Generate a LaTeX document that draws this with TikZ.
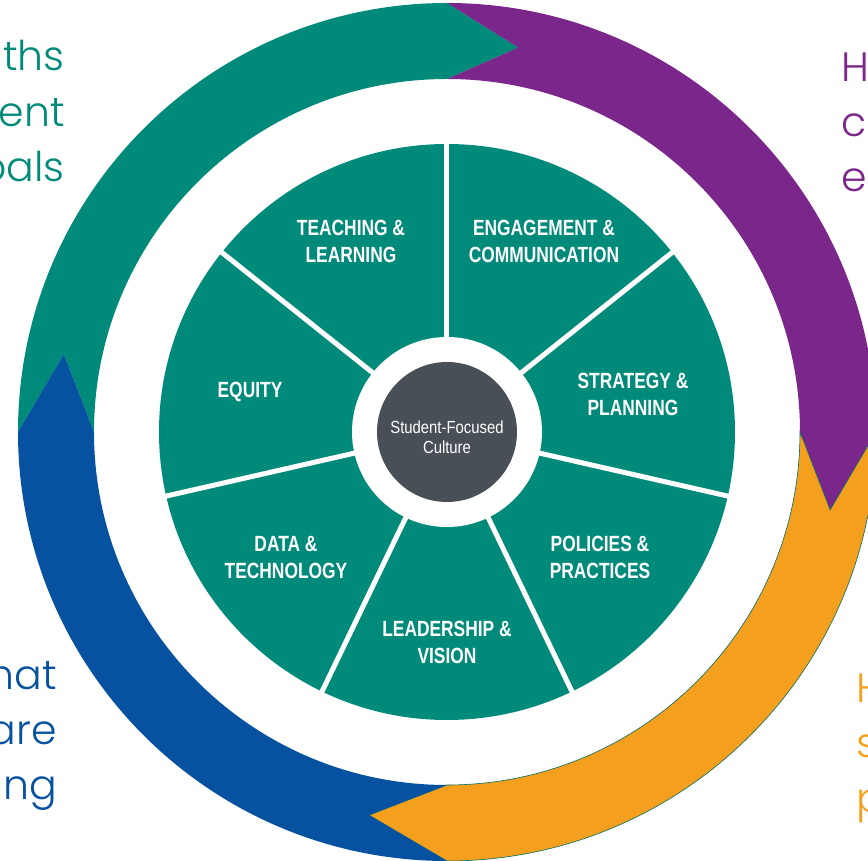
\documentclass[tikz,border=0pt]{standalone}
\usepackage{fontspec}
\newfontfamily\labelfont[FakeStretch=0.79]{Liberation Sans}
\newfontfamily\corefont[FakeStretch=0.85]{Liberation Sans}
\newfontfamily\sidefont{Poppins Light}
\definecolor{tealc}{RGB}{0,138,122}
\definecolor{purplec}{RGB}{123,38,138}
\definecolor{orangec}{RGB}{244,160,30}
\definecolor{bluec}{RGB}{6,82,160}
\definecolor{grayc}{RGB}{72,79,87}
\begin{document}
\begin{tikzpicture}[x=1pt,y=1pt,
  sector/.style={text=white,align=center,inner sep=0pt,font=\labelfont\bfseries\fontsize{22}{27}\selectfont},
  sidetext/.style={inner sep=0pt,font=\sidefont\fontsize{41}{41}\selectfont},
  spoke/.style={white,line width=5pt}]
\useasboundingbox (-447,-429) rectangle (421,432);
\def\Ro{429pt}\def\Ri{353pt}\def\Rm{391pt}
% outer chevron ring
\fill[tealc] (180:\Ro) arc[start angle=180,end angle=90,radius=\Ro] -- (79.5:\Rm) -- (90:\Ri)
  arc[start angle=90,end angle=180,radius=\Ri] -- (168.5:\Rm) -- cycle;
\fill[purplec] (90:\Ro) arc[start angle=90,end angle=0,radius=\Ro] -- (-11.5:\Rm) -- (0:\Ri)
  arc[start angle=0,end angle=90,radius=\Ri] -- (79.5:\Rm) -- cycle;
\filldraw[fill=orangec,draw=tealc!80!black,line width=0.6pt] (0:\Ro) arc[start angle=0,end angle=-90,radius=\Ro] -- (-101.5:\Rm) -- (-90:\Ri)
  arc[start angle=-90,end angle=0,radius=\Ri] -- (-11.5:\Rm) -- cycle;
\fill[bluec] (270:\Ro) arc[start angle=270,end angle=180,radius=\Ro] -- (168.5:\Rm) -- (180:\Ri)
  arc[start angle=180,end angle=270,radius=\Ri] -- (258.5:\Rm) -- cycle;
% inner disc
\fill[tealc] (0,0) circle[radius=288pt];
\foreach \a in {90,38.571,-12.857,-64.286,-115.714,-167.143,141.429}
  \draw[spoke] (\a:90pt) -- (\a:292pt);
\fill[white] (0,0) circle[radius=95pt];
\node[circle,fill=grayc,minimum size=140pt,inner sep=0pt] (core) at (0,0) {};
\node[text=white,align=center,inner sep=0pt,font=\corefont\fontsize{17.5}{20.5}\selectfont] (corelabel) at (0,-5) {Student-Focused\\Culture};
% sector labels
\node[sector] (teach) at (-96,191) {TEACHING \&\\LEARNING};
\node[sector] (engage) at (97,191) {ENGAGEMENT \&\\COMMUNICATION};
\node[sector] (strat) at (186,38) {STRATEGY \&\\PLANNING};
\node[sector] (policy) at (153,-125) {POLICIES \&\\PRACTICES};
\node[sector] (lead) at (0,-210) {LEADERSHIP \&\\VISION};
\node[sector] (data) at (-161,-125) {DATA \&\\TECHNOLOGY};
\node[sector] (equity) at (-197,40) {EQUITY};
% side texts
\node[sidetext,text=tealc,anchor=base east] (tl1) at (-382,361) {ths};
\node[sidetext,text=tealc,anchor=base east] (tl2) at (-382,305) {ent};
\node[sidetext,text=tealc,anchor=base east] (tl3) at (-382,250) {oals};
\node[sidetext,text=bluec,anchor=base east] (bl1) at (-390,-258) {hat};
\node[sidetext,text=bluec,anchor=base east] (bl2) at (-390,-313) {are};
\node[sidetext,text=bluec,anchor=base east] (bl3) at (-390,-368) {ing};
\node[sidetext,text=purplec,anchor=base west] (tr1) at (394,350) {H};
\node[sidetext,text=purplec,anchor=base west] (tr2) at (394,295) {c};
\node[sidetext,text=purplec,anchor=base west] (tr3) at (394,240) {e};
\node[sidetext,text=orangec,anchor=base west] (br1) at (409,-271) {H};
\node[sidetext,text=orangec,anchor=base west] (br2) at (409,-326) {s};
\node[sidetext,text=orangec,anchor=base west] (br3) at (409,-381) {p};
\end{tikzpicture}
\end{document}
